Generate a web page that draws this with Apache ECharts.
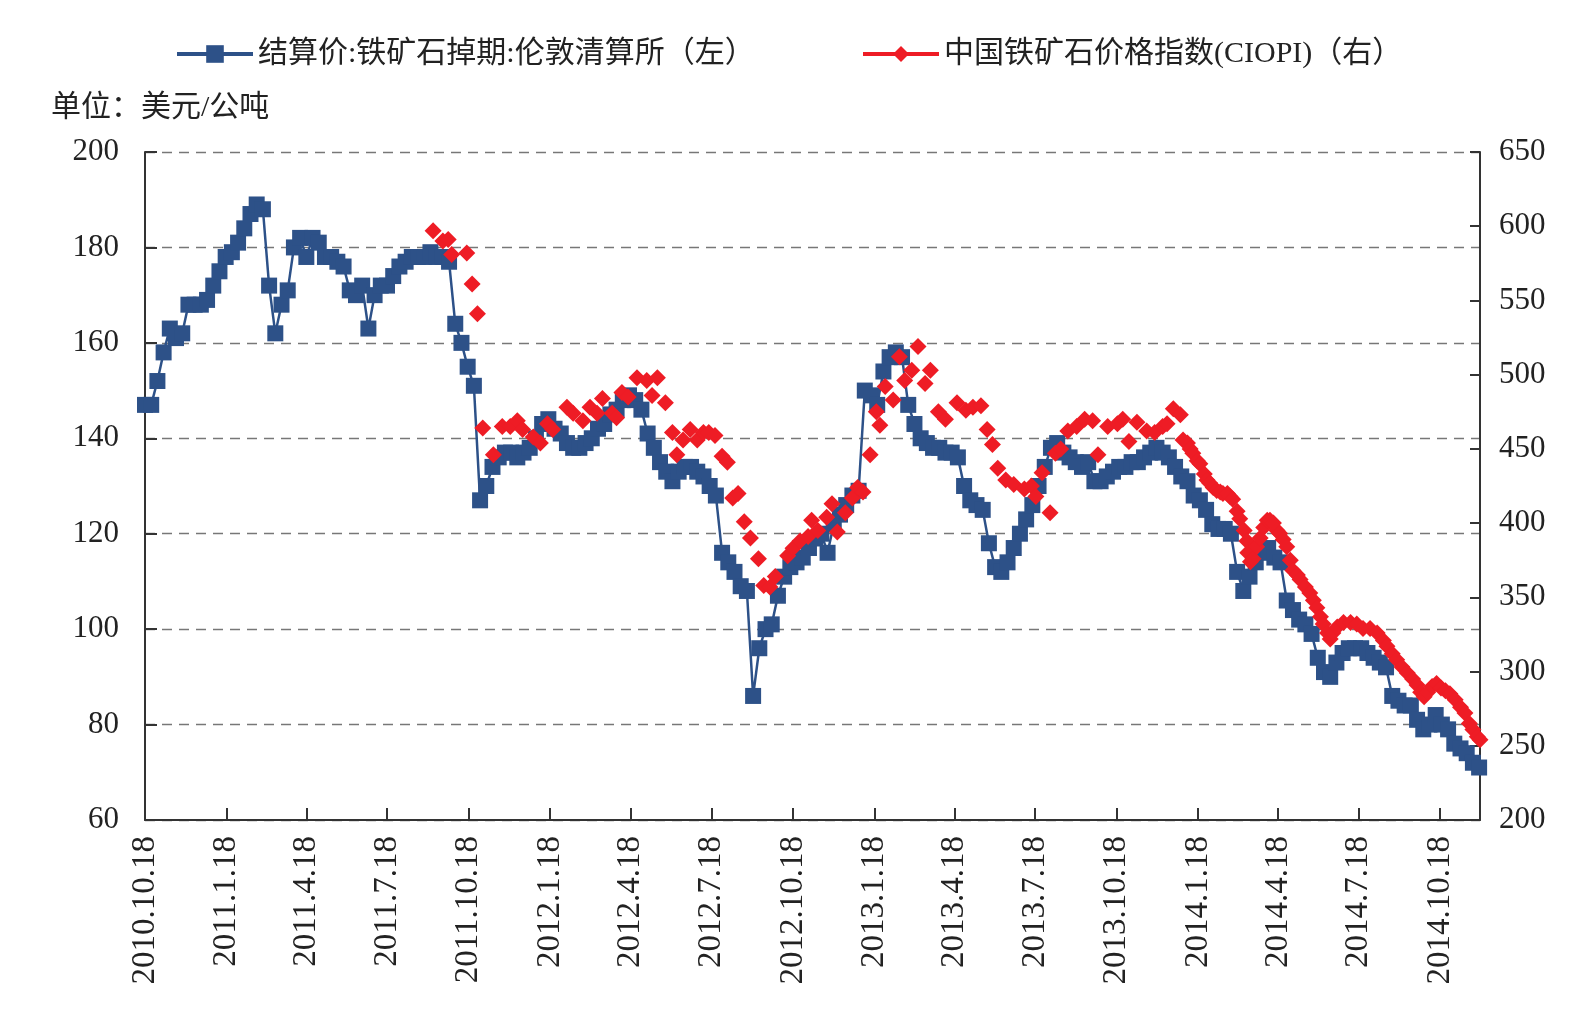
<!DOCTYPE html>
<html>
<head>
<meta charset="utf-8">
<title>铁矿石价格</title>
<script src="https://cdn.jsdelivr.net/npm/echarts@6/dist/echarts.min.js"></script>
<style>
  html, body { margin: 0; padding: 0; background: #fff; }
  #chart { width: 1586px; height: 1022px; }
</style>
</head>
<body>
<div id="chart"></div>
<script>
// 结算价:铁矿石掉期:伦敦清算所, one value a week from blueStart
var blueStart = '2010-10-18';
var blueValues = [
  147, 147, 152, 158, 163, 161, 162, 168, 168, 168,
  169, 172, 175, 178, 179, 181, 184, 187, 189, 188,
  172, 162, 168, 171, 180, 182, 178, 182, 181, 178,
  178, 177, 176, 171, 170, 172, 163, 170, 172, 172,
  174, 176, 177, 178, 178, 178, 179, 178, 178, 177,
  164, 160, 155, 151, 127, 130, 134, 136, 137, 137,
  136, 137, 138, 140, 143, 144, 142, 141, 139, 138,
  138, 139, 140, 142, 143, 145, 146, 148, 149, 148,
  146, 141, 138, 135, 133, 131, 133, 134, 134, 133,
  132, 130, 128, 116, 114, 112, 109, 108, 86, 96,
  100, 101, 107, 111, 113, 114, 115, 117, 119, 120,
  116, 122, 124, 126, 128, 129, 150, 149, 147, 154,
  157, 158, 157, 147, 143, 140, 139, 138, 138, 137,
  137, 136, 130, 127, 126, 125, 118, 113, 112, 114,
  117, 120, 123, 126, 130, 134, 138, 139, 137, 136,
  135, 134, 135, 131, 131, 132, 133, 134, 134, 135,
  135, 136, 137, 138, 137, 136, 134, 132, 131, 128,
  127, 125, 122, 121, 121, 120, 112, 108, 111, 114,
  116, 117, 115, 114, 106, 104, 102, 101, 99, 94,
  91, 90, 93, 95, 96, 96, 96, 95, 94, 93,
  92, 86, 85, 84, 84, 81, 79, 80, 82, 80,
  79, 76, 75, 74, 72, 71
];

// 中国铁矿石价格指数(CIOPI)
var redDates = [
  '2011-09-08', '2011-09-19', '2011-09-25', '2011-09-29', '2011-10-16', '2011-10-22', '2011-10-28', '2011-11-03',
  '2011-11-15', '2011-11-25', '2011-12-04', '2011-12-12', '2011-12-18', '2011-12-30', '2012-01-07', '2012-01-15',
  '2012-01-21', '2012-02-06', '2012-02-13', '2012-02-24', '2012-03-03', '2012-03-11', '2012-03-17', '2012-03-28',
  '2012-04-02', '2012-04-08', '2012-04-15', '2012-04-25', '2012-05-06', '2012-05-12', '2012-05-18', '2012-05-27',
  '2012-06-04', '2012-06-09', '2012-06-16', '2012-06-24', '2012-07-02', '2012-07-09', '2012-07-15', '2012-07-22',
  '2012-07-30', '2012-08-05', '2012-08-11', '2012-08-17', '2012-08-24', '2012-08-31', '2012-09-09', '2012-09-15',
  '2012-09-22', '2012-09-28', '2012-10-12', '2012-10-18', '2012-10-26', '2012-11-04', '2012-11-08', '2012-11-15',
  '2012-11-25', '2012-12-01', '2012-12-07', '2012-12-16', '2012-12-24', '2012-12-30', '2013-01-05', '2013-01-13',
  '2013-01-20', '2013-01-24', '2013-01-30', '2013-02-08', '2013-02-15', '2013-02-21', '2013-03-01', '2013-03-08',
  '2013-03-16', '2013-03-22', '2013-03-31', '2013-04-08', '2013-04-21', '2013-05-01', '2013-05-09', '2013-05-18',
  '2013-05-25', '2013-05-31', '2013-06-06', '2013-06-15', '2013-06-24', '2013-07-06', '2013-07-14', '2013-07-19',
  '2013-07-26', '2013-08-04', '2013-08-10', '2013-08-16', '2013-08-24', '2013-09-03', '2013-09-12', '2013-09-21',
  '2013-09-27', '2013-10-08', '2013-10-19', '2013-10-25', '2013-11-01', '2013-11-10', '2013-11-21', '2013-11-30',
  '2013-12-09', '2013-12-14', '2013-12-21', '2013-12-29',
  '2014-01-01', '2014-01-06', '2014-01-09', '2014-01-12', '2014-01-17', '2014-01-20', '2014-01-25', '2014-01-28',
  '2014-01-31', '2014-02-04', '2014-02-08', '2014-02-12', '2014-02-15', '2014-02-20', '2014-02-23', '2014-02-26',
  '2014-03-03', '2014-03-06', '2014-03-11', '2014-03-14', '2014-03-15', '2014-03-18', '2014-03-21', '2014-03-25',
  '2014-03-29', '2014-04-02', '2014-04-06', '2014-04-09', '2014-04-13', '2014-04-17', '2014-04-20', '2014-04-24',
  '2014-04-28', '2014-05-02', '2014-05-05', '2014-05-10', '2014-05-13', '2014-05-19', '2014-05-24', '2014-05-28',
  '2014-06-01', '2014-06-05', '2014-06-08', '2014-06-13', '2014-06-16', '2014-06-19', '2014-06-24', '2014-07-01',
  '2014-07-09', '2014-07-16', '2014-07-23', '2014-07-31', '2014-08-08', '2014-08-15', '2014-08-19', '2014-08-25',
  '2014-08-30', '2014-09-05', '2014-09-11', '2014-09-17', '2014-09-22', '2014-09-26', '2014-09-30', '2014-10-04',
  '2014-10-09', '2014-10-14', '2014-10-19', '2014-10-24', '2014-10-29', '2014-11-04', '2014-11-10', '2014-11-15',
  '2014-11-20', '2014-11-24', '2014-11-29', '2014-12-02'
];
var redValues = [
  597, 590, 591, 581, 582, 561, 541, 464,
  446, 465, 465, 469, 463, 458, 454, 467,
  463, 478, 474, 469, 478, 474, 484, 474,
  471, 488, 485, 498, 496, 486, 498, 481,
  461, 446, 456, 463, 456, 461, 461, 459,
  445, 441, 417, 420, 401, 390, 376, 358,
  357, 364, 378, 383, 388, 391, 402, 395,
  404, 413, 394, 407, 417, 424, 421, 446,
  475, 466, 492, 483, 512, 496, 503, 519,
  494, 503, 475, 470, 481, 476, 478, 479,
  463, 453, 437, 429, 426, 423, 425, 418,
  434, 407, 447, 450, 462, 465, 470, 469,
  446, 465, 467, 470, 455, 468, 462, 461,
  465, 467, 477, 473,
  456, 454, 450, 447, 442, 440, 433, 429,
  427, 424, 422, 421, 420, 420, 418, 416,
  408, 403, 395, 388, 380, 374, 376, 384,
  390, 397, 402, 402, 400, 395, 393, 389,
  384, 375, 368, 365, 362, 357, 353, 348,
  343, 337, 332, 326, 322, 326, 330, 333,
  333, 332, 329, 329, 326, 321, 317, 312,
  308, 303, 299, 295, 291, 286, 283, 286,
  290, 292, 289, 287, 285, 281, 276, 272,
  265, 261, 256, 254
];

var tickLabels = [
  '2010.10.18', '2011.1.18', '2011.4.18', '2011.7.18', '2011.10.18', '2012.1.18',
  '2012.4.18', '2012.7.18', '2012.10.18', '2013.1.18', '2013.4.18', '2013.7.18',
  '2013.10.18', '2014.1.18', '2014.4.18', '2014.7.18', '2014.10.18'
];
var axisStart = '2010-10-18';
var axisEnd = '2014-12-02';

var blueName = '结算价:铁矿石掉期:伦敦清算所（左）';
var redName = '中国铁矿石价格指数(CIOPI)（右）';
var blueColor = '#2d5188';
var redColor = '#ee1c25';

function toTime(s, addDays) {
  var p = s.split(/[-.]/);
  return new Date(+p[0], +p[1] - 1, +p[2] + (addDays || 0)).getTime();
}

var blueData = [];
for (var i = 0; i < blueValues.length; i++) {
  blueData.push([toTime(blueStart, i * 7), blueValues[i]]);
}
var redData = [];
for (var j = 0; j < redDates.length; j++) {
  redData.push([toTime(redDates[j]), redValues[j]]);
}
var tickTimes = tickLabels.map(function (s) { return toTime(s); });

var serif = '"Liberation Serif", "Times New Roman", serif';
var cjk = '"Liberation Serif", "Noto Sans CJK SC", sans-serif';
var legendText = { fontFamily: cjk, fontSize: 30, color: '#222' };

var myChart = echarts.init(document.getElementById('chart'));
var option = {
  animation: false,
  backgroundColor: '#fff',
  title: {
    text: '单位：美元/公吨',
    left: 46,
    top: 88,
    textStyle: { fontFamily: cjk, fontSize: 30, fontWeight: 'normal', color: '#222' }
  },
  legend: [
    {
      left: 170, top: 34, itemWidth: 76, itemHeight: 22,
      textStyle: legendText,
      lineStyle: { width: 4 },
      data: [{ name: blueName }]
    },
    {
      left: 856, top: 34, itemWidth: 76, itemHeight: 20,
      textStyle: legendText,
      data: [{ name: redName, lineStyle: { color: redColor, width: 4, opacity: 1 } }]
    }
  ],
  grid: { left: 145, right: 106, top: 152, bottom: 202 },
  xAxis: {
    // dates as timestamps on a value axis, so the quarterly ticks can sit on the 18th
    type: 'value',
    min: toTime(axisStart),
    max: toTime(axisEnd),
    splitLine: { show: false },
    axisLine: { lineStyle: { color: '#333', width: 2 } },
    axisTick: {
      show: true, inside: true, length: 12, customValues: tickTimes,
      lineStyle: { color: '#333', width: 2 }
    },
    axisLabel: {
      customValues: tickTimes,
      rotate: 90,
      margin: 16,
      fontFamily: serif,
      fontSize: 33,
      color: '#222',
      formatter: function (v) {
        var d = new Date(v);
        return d.getFullYear() + '.' + (d.getMonth() + 1) + '.' + d.getDate();
      }
    }
  },
  yAxis: [
    {
      type: 'value', min: 60, max: 200, interval: 20, position: 'left',
      axisLine: { show: true, lineStyle: { color: '#333', width: 2 } },
      axisTick: { show: true, inside: true, length: 12, lineStyle: { color: '#333', width: 2 } },
      axisLabel: { fontFamily: serif, fontSize: 31, color: '#222', margin: 26 },
      splitLine: { show: true, lineStyle: { color: '#777', width: 1.3, type: [10, 7] } }
    },
    {
      type: 'value', min: 200, max: 650, interval: 50, position: 'right',
      axisLine: { show: true, lineStyle: { color: '#333', width: 2 } },
      axisTick: { show: true, inside: true, length: 10, lineStyle: { color: '#333', width: 2 } },
      axisLabel: { fontFamily: serif, fontSize: 31, color: '#222', margin: 19 },
      splitLine: { show: false }
    }
  ],
  series: [
    {
      name: blueName,
      type: 'line',
      yAxisIndex: 0,
      data: blueData,
      symbol: 'rect',
      symbolSize: 16,
      showAllSymbol: true,
      itemStyle: { color: blueColor },
      lineStyle: { color: blueColor, width: 2.5 }
    },
    {
      name: redName,
      type: 'line',
      yAxisIndex: 1,
      data: redData,
      symbol: 'diamond',
      symbolSize: 17,
      showAllSymbol: true,
      itemStyle: { color: redColor },
      lineStyle: { color: redColor, width: 2, opacity: 0 }
    }
  ]
};
myChart.setOption(option);
</script>
</body>
</html>
